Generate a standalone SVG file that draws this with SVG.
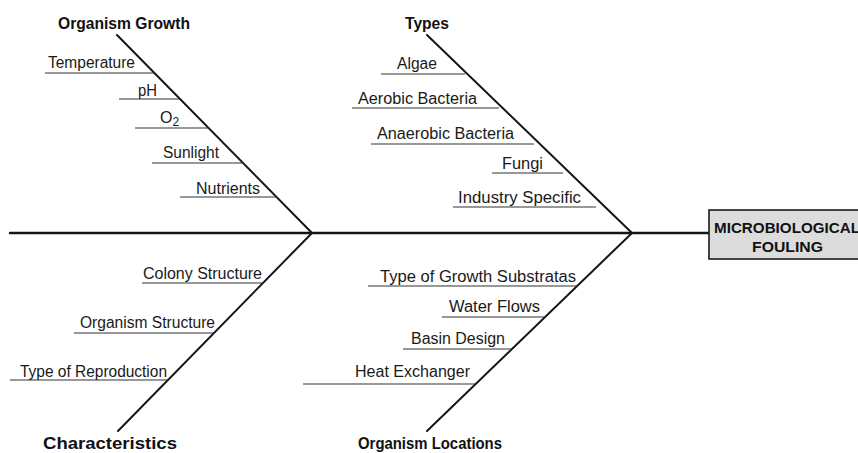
<svg xmlns="http://www.w3.org/2000/svg" width="858" height="453" viewBox="0 0 858 453">
<style>
.bg{fill:#ffffff}
.spine{stroke:#151515;stroke-width:2.4;fill:none;stroke-linecap:round}
.bone{stroke:#151515;stroke-width:2;fill:none;stroke-linecap:round}
.ul{stroke:#333;stroke-width:1.2;fill:none}
.t{font-family:"Liberation Sans",Arial,sans-serif;font-size:16px;fill:#1a1a1a}
.h{font-family:"Liberation Sans",Arial,sans-serif;font-size:16px;font-weight:bold;fill:#111}
.box{fill:#dcdcdc;stroke:#1a1a1a;stroke-width:1.6}
.bt{font-family:"Liberation Sans",Arial,sans-serif;font-size:14px;font-weight:bold;fill:#111}
</style>
<rect class="bg" x="0" y="0" width="858" height="453"/>
<g id="connectors">
<line class="spine" x1="10" y1="233" x2="709" y2="233"/>
<line class="bone" x1="117" y1="35" x2="312" y2="233"/>
<line class="bone" x1="312" y1="233" x2="118" y2="431"/>
<line class="bone" x1="427" y1="35" x2="632" y2="233"/>
<line class="bone" x1="632" y1="233" x2="427" y2="431"/>
</g>
<g id="effect">
<rect class="box" x="709" y="210" width="160" height="49"/>
<text class="bt" x="714" y="233" textLength="146" lengthAdjust="spacingAndGlyphs">MICROBIOLOGICAL</text>
<text class="bt" x="752" y="252" textLength="71" lengthAdjust="spacingAndGlyphs">FOULING</text>
</g>
<g id="organism-growth">
<text class="h" x="58" y="29" textLength="132" lengthAdjust="spacingAndGlyphs">Organism Growth</text>
</g>
<g id="temperature"><line class="ul" x1="45" y1="73" x2="154" y2="73"/><text class="t" x="48" y="68" textLength="87" lengthAdjust="spacingAndGlyphs">Temperature</text></g>
<g id="ph"><line class="ul" x1="119" y1="99" x2="180" y2="99"/><text class="t" x="138" y="96" textLength="19" lengthAdjust="spacingAndGlyphs">pH</text></g>
<g id="o2"><line class="ul" x1="135" y1="128" x2="209" y2="128"/><text class="t" x="160" y="123">O<tspan font-size="12" dy="3">2</tspan></text></g>
<g id="sunlight"><line class="ul" x1="152" y1="163" x2="243" y2="163"/><text class="t" x="163" y="158" textLength="56" lengthAdjust="spacingAndGlyphs">Sunlight</text></g>
<g id="nutrients"><line class="ul" x1="180" y1="197" x2="277" y2="197"/><text class="t" x="196" y="194" textLength="64" lengthAdjust="spacingAndGlyphs">Nutrients</text></g>
<g id="types">
<text class="h" x="405" y="29" textLength="44" lengthAdjust="spacingAndGlyphs">Types</text>
</g>
<g id="algae"><line class="ul" x1="381" y1="74" x2="465" y2="74"/><text class="t" x="397" y="69" textLength="40" lengthAdjust="spacingAndGlyphs">Algae</text></g>
<g id="aerobic-bacteria"><line class="ul" x1="352" y1="108" x2="499" y2="108"/><text class="t" x="358" y="104" textLength="119" lengthAdjust="spacingAndGlyphs">Aerobic Bacteria</text></g>
<g id="anaerobic-bacteria"><line class="ul" x1="371" y1="144" x2="534" y2="144"/><text class="t" x="377" y="139" textLength="137" lengthAdjust="spacingAndGlyphs">Anaerobic Bacteria</text></g>
<g id="fungi"><line class="ul" x1="492" y1="173" x2="563" y2="173"/><text class="t" x="502" y="169" textLength="41" lengthAdjust="spacingAndGlyphs">Fungi</text></g>
<g id="industry-specific"><line class="ul" x1="453" y1="207" x2="596" y2="207"/><text class="t" x="458" y="203" textLength="123" lengthAdjust="spacingAndGlyphs">Industry Specific</text></g>
<g id="characteristics">
<text class="h" x="43" y="449" textLength="134" lengthAdjust="spacingAndGlyphs">Characteristics</text>
</g>
<g id="colony-structure"><line class="ul" x1="142" y1="283" x2="263" y2="283"/><text class="t" x="143" y="279" textLength="119" lengthAdjust="spacingAndGlyphs">Colony Structure</text></g>
<g id="organism-structure"><line class="ul" x1="74" y1="333" x2="214" y2="333"/><text class="t" x="80" y="328" textLength="135" lengthAdjust="spacingAndGlyphs">Organism Structure</text></g>
<g id="type-of-reproduction"><line class="ul" x1="10" y1="380" x2="168" y2="380"/><text class="t" x="20" y="377" textLength="147" lengthAdjust="spacingAndGlyphs">Type of Reproduction</text></g>
<g id="organism-locations">
<text class="h" x="358" y="449" textLength="144" lengthAdjust="spacingAndGlyphs">Organism Locations</text>
</g>
<g id="type-of-growth-substratas"><line class="ul" x1="368" y1="286" x2="577" y2="286"/><text class="t" x="380" y="282" textLength="196" lengthAdjust="spacingAndGlyphs">Type of Growth Substratas</text></g>
<g id="water-flows"><line class="ul" x1="442" y1="317" x2="545" y2="317"/><text class="t" x="449" y="312" textLength="91" lengthAdjust="spacingAndGlyphs">Water Flows</text></g>
<g id="basin-design"><line class="ul" x1="403" y1="349" x2="511" y2="349"/><text class="t" x="411" y="344" textLength="94" lengthAdjust="spacingAndGlyphs">Basin Design</text></g>
<g id="heat-exchanger"><line class="ul" x1="303" y1="384" x2="475" y2="384"/><text class="t" x="355" y="377" textLength="115" lengthAdjust="spacingAndGlyphs">Heat Exchanger</text></g>
</svg>
